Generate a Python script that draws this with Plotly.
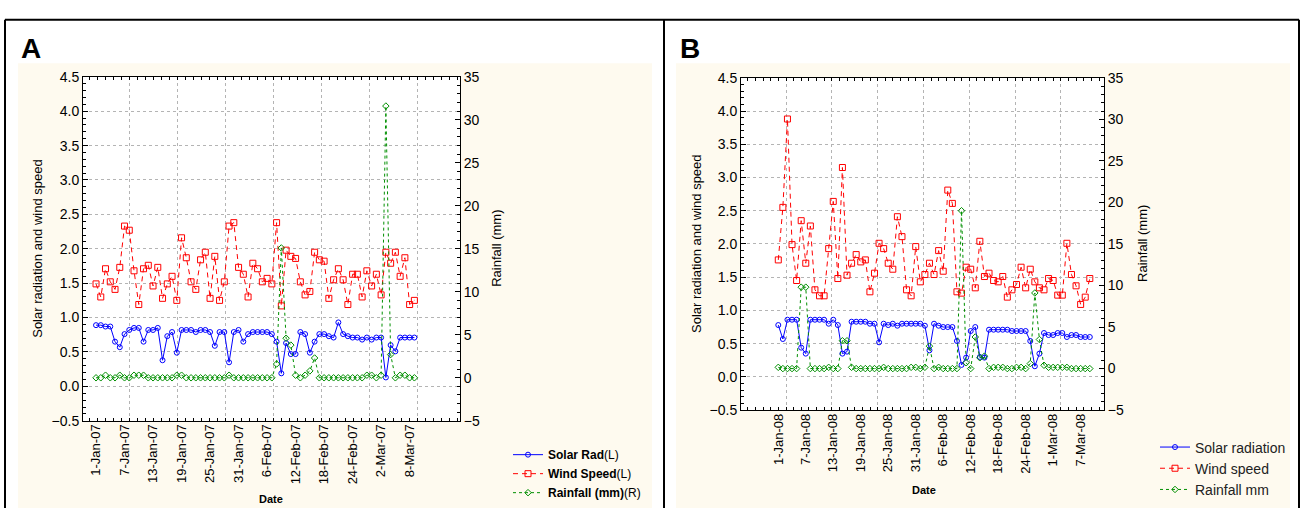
import pandas as pd
import plotly.graph_objects as go

# ---------------- data ----------------
start_a = "2007-01-01"
start_b = "2008-01-01"

solar_a = [0.89, 0.89, 0.87, 0.87, 0.65, 0.57, 0.76, 0.82, 0.85, 0.85,
           0.65, 0.82, 0.82, 0.85, 0.38, 0.73, 0.79, 0.49, 0.82, 0.82,
           0.82, 0.79, 0.82, 0.82, 0.79, 0.59, 0.79, 0.79, 0.35, 0.79,
           0.82, 0.65, 0.76, 0.79, 0.79, 0.79, 0.79, 0.76, 0.65,
           0.19, 0.63, 0.47, 0.47, 0.79, 0.76, 0.49, 0.65, 0.76, 0.76,
           0.73, 0.71, 0.93, 0.76, 0.73, 0.71, 0.71, 0.68, 0.71, 0.68,
           0.71, 0.71, 0.13, 0.60, 0.51, 0.71, 0.71, 0.71, 0.71]
wind_a = [1.49, 1.30, 1.71, 1.52, 1.41, 1.73, 2.33, 2.27, 1.68, 1.19,
          1.71, 1.76, 1.46, 1.73, 1.28, 1.49, 1.60, 1.25, 2.16, 1.87,
          1.52, 1.41, 1.84, 1.95, 1.28, 1.89, 1.25, 1.52, 2.33, 2.38,
          1.73, 1.63, 1.30, 1.79, 1.71, 1.52, 1.57, 1.49, 2.38,
          1.17, 1.98, 1.89, 1.86, 1.52, 1.33, 1.38, 1.95, 1.84, 1.82,
          1.28, 1.55, 1.71, 1.55, 1.19, 1.63, 1.63, 1.30, 1.68, 1.46,
          1.63, 1.33, 1.95, 1.79, 1.95, 1.60, 1.87, 1.19, 1.25]
rain_a = [0, 0, 0.3, 0, 0, 0.3, 0, 0, 0.3, 0.3,
          0.3, 0, 0, 0, 0, 0, 0, 0.3, 0.3, 0,
          0, 0, 0, 0, 0, 0, 0, 0, 0.3, 0,
          0, 0, 0, 0, 0, 0, 0, 0, 1.6,
          15.1, 4.6, 3.8, 0.3, 0, 0.3, 0.8, 2.3, 0, 0,
          0, 0, 0, 0, 0, 0, 0, 0, 0.3, 0.3,
          0, 0.3, 31.6, 2.7, 0, 0.3, 0.3, 0, 0]

solar_b = [0.78, 0.57, 0.86, 0.86, 0.86, 0.44, 0.35, 0.86, 0.86, 0.86,
           0.86, 0.80, 0.86, 0.78, 0.35, 0.38, 0.83, 0.83, 0.83, 0.83,
           0.80, 0.80, 0.52, 0.80, 0.78, 0.80, 0.77, 0.80, 0.80, 0.80,
           0.80, 0.80, 0.77, 0.40, 0.80, 0.77, 0.75, 0.75, 0.75, 0.54,
           0.18, 0.29, 0.69, 0.75, 0.30, 0.29, 0.71, 0.71, 0.71, 0.71,
           0.71, 0.69, 0.69, 0.69, 0.69, 0.54, 0.16, 0.35, 0.66, 0.63,
           0.63, 0.66, 0.66, 0.60, 0.63, 0.63, 0.60, 0.60, 0.60]
wind_b = [1.76, 2.55, 3.88, 1.99, 1.45, 2.35, 1.71, 2.27, 1.31, 1.22,
          1.22, 1.93, 2.64, 1.48, 3.15, 1.53, 1.71, 1.84, 1.73, 1.76,
          1.28, 1.56, 2.01, 1.93, 1.71, 1.62, 2.41, 2.11, 1.31, 1.22,
          1.96, 1.43, 1.54, 1.71, 1.54, 1.90, 1.59, 2.81, 2.61, 1.28,
          1.26, 1.65, 1.62, 1.34, 2.04, 1.51, 1.56, 1.45, 1.43, 1.51,
          1.20, 1.31, 1.39, 1.65, 1.34, 1.62, 1.43, 1.34, 1.31, 1.48,
          1.45, 1.23, 1.23, 2.01, 1.54, 1.37, 1.09, 1.20, 1.48]
rain_b = [0.15, 0, 0, 0, 0, 9.8, 9.8, 0, 0, 0,
          0, 0.15, 0, 0, 3.35, 3.35, 0.15, 0, 0, 0,
          0, 0, 0, 0.15, 0, 0, 0, 0, 0, 0.15,
          0.15, 0, 0.15, 2.7, 0, 0.15, 0, 0, 0, 0,
          19.0, 0.7, 0, 3.8, 1.3, 1.5, 0, 0.15, 0.15, 0.15,
          0, 0, 0.15, 0.15, 0, 0.6, 9.1, 3.5, 0.4, 0.15,
          0.15, 0.15, 0.15, 0.15, 0, 0, 0, 0, 0]

labels_a = ["1-Jan-07", "7-Jan-07", "13-Jan-07", "19-Jan-07", "25-Jan-07", "31-Jan-07",
            "6-Feb-07", "12-Feb-07", "18-Feb-07", "24-Feb-07", "2-Mar-07", "8-Mar-07"]
labels_b = ["1-Jan-08", "7-Jan-08", "13-Jan-08", "19-Jan-08", "25-Jan-08", "31-Jan-08",
            "6-Feb-08", "12-Feb-08", "18-Feb-08", "24-Feb-08", "1-Mar-08", "7-Mar-08"]

# ---------------- helpers ----------------
FONT = "Arial, Liberation Sans, sans-serif"
BLUE, RED, GREEN = "#0000ff", "#ff0000", "#008f00"
GRID = "#b4b4b4"
W, H = 1301, 516


def days(labels, start):
    t0 = pd.Timestamp(start)
    return [(pd.to_datetime(s, format="%d-%b-%y") - t0).days for s in labels]


xa = list(range(len(solar_a)))
xb = list(range(len(solar_b)))


def px(v):
    return v / W


def py(v):
    return 1 - v / H


fig = go.Figure()

legA = dict(legend="legend")
legB = dict(legend="legend2")

fig.add_trace(go.Scatter(x=xa, y=solar_a, name="<b>Solar Rad</b>(L)", mode="lines+markers",
                         line=dict(color=BLUE, width=1),
                         marker=dict(symbol="circle-open", size=5, color=BLUE, line=dict(width=1)),
                         xaxis="x", yaxis="y", **legA))
fig.add_trace(go.Scatter(x=xa, y=wind_a, name="<b>Wind Speed</b>(L)", mode="lines+markers",
                         line=dict(color=RED, width=1, dash="5px,4px"),
                         marker=dict(symbol="square-open", size=6, color=RED, line=dict(width=1)),
                         xaxis="x", yaxis="y", **legA))
fig.add_trace(go.Scatter(x=xa, y=rain_a, name="<b>Rainfall (mm)</b>(R)", mode="lines+markers",
                         line=dict(color=GREEN, width=1, dash="dot"),
                         marker=dict(symbol="diamond-open", size=5, color=GREEN, line=dict(width=1)),
                         xaxis="x", yaxis="y2", **legA))

fig.add_trace(go.Scatter(x=xb, y=solar_b, name="Solar radiation", mode="lines+markers",
                         line=dict(color=BLUE, width=1),
                         marker=dict(symbol="circle-open", size=5, color=BLUE, line=dict(width=1)),
                         xaxis="x2", yaxis="y3", **legB))
fig.add_trace(go.Scatter(x=xb, y=wind_b, name="Wind speed", mode="lines+markers",
                         line=dict(color=RED, width=1, dash="5px,4px"),
                         marker=dict(symbol="square-open", size=6, color=RED, line=dict(width=1)),
                         xaxis="x2", yaxis="y3", **legB))
fig.add_trace(go.Scatter(x=xb, y=rain_b, name="Rainfall mm", mode="lines+markers",
                         line=dict(color=GREEN, width=1, dash="dot"),
                         marker=dict(symbol="diamond-open", size=5, color=GREEN, line=dict(width=1)),
                         xaxis="x2", yaxis="y4", **legB))

# empty traces so that label overlay axes are drawn
fig.add_trace(go.Scatter(x=[], y=[], xaxis="x3", yaxis="y", showlegend=False, hoverinfo="skip"))
fig.add_trace(go.Scatter(x=[], y=[], xaxis="x4", yaxis="y3", showlegend=False, hoverinfo="skip"))

domA_x = [px(83), px(460)]
domA_y = [py(426), py(71)]
domB_x = [px(741), px(1104)]
domB_y = [py(415), py(72)]

rangeA = [-2.74, 76.6]
rangeB = [-8.14, 71.1]

tickfont_x = dict(family=FONT, size=13, color="black")
tickfont_y = dict(family=FONT, size=14, color="black")


def grid_x(domain, anchor, rng, tick0, dtick):
    return dict(domain=domain, anchor=anchor, range=rng, tickmode="linear", tick0=tick0, dtick=dtick,
                showgrid=True, gridcolor=GRID, griddash="dot", gridwidth=1,
                showticklabels=False, ticks="inside", ticklen=3, tickcolor="black",
                showline=True, linecolor="black", linewidth=1, mirror="ticks",
                minor=dict(tick0=tick0, dtick=dtick / 6, ticks="inside", ticklen=3, tickcolor="black",
                           showgrid=False),
                zeroline=False, fixedrange=True)


def label_x(overlay, anchor, rng, labels, start):
    return dict(overlaying=overlay, anchor=anchor, range=rng, tickmode="array",
                tickvals=days(labels, start), ticktext=labels, tickangle=-90,
                tickfont=tickfont_x, showgrid=False, ticks="", showline=False, zeroline=False,
                side="bottom")


def left_y(domain, anchor):
    return dict(domain=domain, anchor=anchor, range=[-0.5, 4.5], tickmode="linear", tick0=0, dtick=0.5,
                tickformat=".1f", tickfont=tickfont_y,
                showgrid=True, gridcolor=GRID, griddash="dot", gridwidth=1,
                ticks="inside", ticklen=5, tickcolor="black",
                minor=dict(dtick=0.1, ticks="inside", ticklen=3, tickcolor="black", showgrid=False),
                showline=True, linecolor="black", linewidth=1, zeroline=False, fixedrange=True)


def right_y(overlay, anchor):
    return dict(overlaying=overlay, anchor=anchor, side="right", range=[-5, 35], tickmode="linear",
                tick0=0, dtick=5, tickfont=tickfont_y, showgrid=False,
                ticks="inside", ticklen=5, tickcolor="black",
                minor=dict(dtick=1, ticks="inside", ticklen=3, tickcolor="black", showgrid=False),
                showline=True, linecolor="black", linewidth=1, zeroline=False, fixedrange=True)


fig.update_layout(
    width=W, height=H, margin=dict(l=0, r=0, t=0, b=0),
    paper_bgcolor="white", plot_bgcolor="white",
    font=dict(family=FONT, color="black"),
    xaxis=grid_x(domA_x, "y", rangeA, 6.95, 10.11),
    xaxis3=label_x("x", "y", rangeA, labels_a, start_a),
    yaxis=left_y(domA_y, "x"),
    yaxis2=right_y("y", "x"),
    xaxis2=grid_x(domB_x, "y3", rangeB, 1.7, 10.0),
    xaxis4=label_x("x2", "y3", rangeB, labels_b, start_b),
    yaxis3=left_y(domB_y, "x2"),
    yaxis4=right_y("y3", "x2"),
    legend=dict(x=px(508), y=py(446), xanchor="left", yanchor="top", bgcolor="rgba(0,0,0,0)",
                font=dict(family=FONT, size=12, color="black"), itemwidth=30, tracegroupgap=0),
    legend2=dict(x=px(1155), y=py(437), xanchor="left", yanchor="top", bgcolor="rgba(0,0,0,0)",
                 font=dict(family=FONT, size=14, color="#222"), itemwidth=30, tracegroupgap=0),
    showlegend=True,
)

CREAM = "#fefaef"
shapes = [
    dict(type="rect", xref="paper", yref="paper", x0=px(18), x1=px(652), y0=0, y1=py(57),
         fillcolor=CREAM, line=dict(width=0), layer="below"),
    dict(type="rect", xref="paper", yref="paper", x0=px(676), x1=px(1290), y0=0, y1=py(57),
         fillcolor=CREAM, line=dict(width=0), layer="below"),
    dict(type="rect", xref="x domain", yref="y domain", x0=0, x1=1, y0=0, y1=1,
         fillcolor="white", line=dict(width=0), layer="below"),
    dict(type="rect", xref="x2 domain", yref="y3 domain", x0=0, x1=1, y0=0, y1=1,
         fillcolor="white", line=dict(width=0), layer="below"),
    # outer frame
    dict(type="line", xref="paper", yref="paper", x0=px(5), x1=px(1299), y0=py(12), y1=py(12),
         line=dict(color="black", width=2)),
    dict(type="line", xref="paper", yref="paper", x0=px(5), x1=px(5), y0=0, y1=py(12),
         line=dict(color="black", width=2)),
    dict(type="line", xref="paper", yref="paper", x0=px(664), x1=px(664), y0=0, y1=py(12),
         line=dict(color="black", width=2)),
    dict(type="line", xref="paper", yref="paper", x0=px(1299), x1=px(1299), y0=0, y1=py(12),
         line=dict(color="black", width=2)),
]
fig.update_layout(shapes=shapes)

ann = [
    dict(text="<b>A</b>", x=px(19), y=py(24), xanchor="left", yanchor="top",
         font=dict(family=FONT, size=28, color="black")),
    dict(text="<b>B</b>", x=px(678), y=py(24), xanchor="left", yanchor="top",
         font=dict(family=FONT, size=28, color="black")),
    dict(text="Solar radiation and wind speed", x=px(38), y=py(248.5), textangle=-90,
         xanchor="center", yanchor="middle", font=dict(family=FONT, size=13, color="black")),
    dict(text="Rainfall (mm)", x=px(497), y=py(248.5), textangle=-90,
         xanchor="center", yanchor="middle", font=dict(family=FONT, size=13, color="black")),
    dict(text="Solar radiation and wind speed", x=px(697), y=py(243.5), textangle=-90,
         xanchor="center", yanchor="middle", font=dict(family=FONT, size=13, color="black")),
    dict(text="Rainfall (mm)", x=px(1143), y=py(243.5), textangle=-90,
         xanchor="center", yanchor="middle", font=dict(family=FONT, size=13, color="black")),
    dict(text="<b>Date</b>", x=px(271), y=py(507), xanchor="center", yanchor="middle",
         font=dict(family=FONT, size=11, color="black")),
    dict(text="<b>Date</b>", x=px(924), y=py(497), xanchor="center", yanchor="middle",
         font=dict(family=FONT, size=11, color="black")),
]
for a in ann:
    a.update(xref="paper", yref="paper", showarrow=False)
fig.update_layout(annotations=ann)

fig.write_html("out.html")
